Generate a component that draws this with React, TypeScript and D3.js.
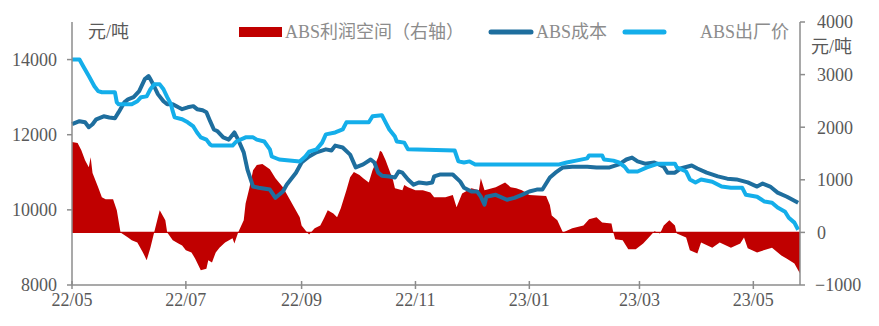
import React from "react";
import * as d3 from "d3";

const priceDates = ["2022-05-01","2022-05-05","2022-05-07","2022-05-10","2022-05-13","2022-05-15","2022-05-17","2022-05-24","2022-05-25","2022-05-26","2022-06-02","2022-06-05","2022-06-07","2022-06-10","2022-06-12","2022-06-14","2022-06-17","2022-06-19","2022-06-21","2022-06-23","2022-06-24","2022-06-25","2022-06-29","2022-07-02","2022-07-05","2022-07-07","2022-07-09","2022-07-12","2022-07-14","2022-07-15","2022-07-26","2022-07-28","2022-08-02","2022-08-06","2022-08-08","2022-08-12","2022-08-15","2022-08-16","2022-08-20","2022-08-31","2022-09-03","2022-09-05","2022-09-09","2022-09-12","2022-09-14","2022-09-19","2022-09-23","2022-09-25","2022-10-07","2022-10-09","2022-10-14","2022-10-16","2022-10-18","2022-10-21","2022-10-22","2022-10-26","2022-10-28","2022-11-22","2022-11-24","2022-11-27","2022-11-30","2022-12-03","2023-01-17","2023-01-21","2023-01-26","2023-02-01","2023-02-02","2023-02-09","2023-02-10","2023-02-15","2023-02-18","2023-02-21","2023-02-23","2023-02-28","2023-03-05","2023-03-11","2023-03-20","2023-03-21","2023-03-26","2023-03-28","2023-03-31","2023-04-03","2023-04-09","2023-04-14","2023-04-19","2023-04-25","2023-04-27","2023-05-03","2023-05-07","2023-05-11","2023-05-14","2023-05-18","2023-05-20","2023-05-23","2023-05-25"];
const priceValues = [14000,14000,13820,13560,13290,13160,13130,13130,12860,12810,12810,12890,13000,13020,13210,13340,13340,13210,13000,12810,12620,12460,12410,12330,12220,12060,11930,11870,11740,11710,11710,11820,11930,11930,11870,11820,11610,11420,11340,11290,11420,11550,11610,11790,12010,12060,12140,12330,12330,12490,12520,12330,12140,11950,11820,11790,11610,11580,11290,11260,11290,11210,11210,11260,11310,11370,11450,11450,11340,11310,11260,11150,11020,11020,11130,11230,11230,11130,11020,10810,10730,10810,10750,10620,10590,10590,10400,10350,10220,10190,10060,9950,9790,9660,9470];

const costDates = ["2022-05-01","2022-05-05","2022-05-08","2022-05-10","2022-05-12","2022-05-14","2022-05-18","2022-05-21","2022-05-24","2022-05-26","2022-05-29","2022-05-31","2022-06-03","2022-06-06","2022-06-09","2022-06-11","2022-06-12","2022-06-14","2022-06-16","2022-06-19","2022-06-21","2022-06-24","2022-06-27","2022-06-29","2022-07-02","2022-07-05","2022-07-07","2022-07-10","2022-07-12","2022-07-14","2022-07-16","2022-07-18","2022-07-21","2022-07-24","2022-07-27","2022-07-29","2022-08-01","2022-08-03","2022-08-06","2022-08-09","2022-08-15","2022-08-18","2022-08-22","2022-08-24","2022-08-29","2022-09-01","2022-09-05","2022-09-09","2022-09-14","2022-09-17","2022-09-19","2022-09-23","2022-09-27","2022-09-30","2022-10-04","2022-10-08","2022-10-10","2022-10-12","2022-10-14","2022-10-18","2022-10-21","2022-10-23","2022-10-25","2022-10-28","2022-10-31","2022-11-03","2022-11-07","2022-11-10","2022-11-11","2022-11-14","2022-11-21","2022-11-25","2022-11-27","2022-12-01","2022-12-04","2022-12-06","2022-12-08","2022-12-09","2022-12-14","2022-12-20","2022-12-24","2022-12-28","2023-01-01","2023-01-05","2023-01-08","2023-01-12","2023-01-15","2023-01-19","2023-01-24","2023-02-01","2023-02-06","2023-02-13","2023-02-18","2023-02-22","2023-02-25","2023-02-28","2023-03-04","2023-03-09","2023-03-14","2023-03-16","2023-03-20","2023-03-23","2023-03-29","2023-04-01","2023-04-06","2023-04-12","2023-04-17","2023-04-22","2023-04-28","2023-05-03","2023-05-06","2023-05-10","2023-05-14","2023-05-19","2023-05-25"];
const costValues = [12280,12360,12330,12200,12280,12410,12490,12460,12440,12600,12860,12940,13000,13160,13480,13560,13480,13290,13080,12890,12810,12810,12730,12680,12730,12760,12680,12650,12600,12360,12140,12090,11930,11870,12060,11870,11530,11070,10620,10590,10540,10320,10490,10670,10990,11260,11420,11530,11610,11580,11710,11660,11470,11130,11210,11340,11260,10990,10910,10890,10860,11020,10990,10810,10670,10730,10700,10730,10890,10940,10940,10750,10590,10490,10490,10350,10140,10350,10400,10270,10320,10400,10490,10540,10540,10860,10990,11130,11150,11150,11130,11130,11210,11340,11390,11290,11230,11260,11150,10990,10990,11100,11180,11100,10990,10890,10830,10810,10730,10620,10700,10620,10460,10350,10190];

const profitDates = ["2022-05-01","2022-05-04","2022-05-06","2022-05-08","2022-05-10","2022-05-11","2022-05-12","2022-05-15","2022-05-17","2022-05-19","2022-05-23","2022-05-25","2022-05-27","2022-05-31","2022-06-02","2022-06-05","2022-06-08","2022-06-10","2022-06-12","2022-06-14","2022-06-17","2022-06-20","2022-06-21","2022-06-24","2022-06-27","2022-06-29","2022-07-01","2022-07-04","2022-07-06","2022-07-09","2022-07-12","2022-07-13","2022-07-15","2022-07-17","2022-07-19","2022-07-22","2022-07-26","2022-07-27","2022-07-29","2022-08-01","2022-08-02","2022-08-04","2022-08-06","2022-08-08","2022-08-11","2022-08-15","2022-08-18","2022-08-22","2022-08-25","2022-08-28","2022-08-31","2022-09-01","2022-09-03","2022-09-05","2022-09-08","2022-09-11","2022-09-13","2022-09-15","2022-09-18","2022-09-20","2022-09-22","2022-09-25","2022-09-27","2022-09-29","2022-10-02","2022-10-04","2022-10-07","2022-10-09","2022-10-12","2022-10-13","2022-10-14","2022-10-16","2022-10-18","2022-10-20","2022-10-21","2022-10-25","2022-10-26","2022-10-28","2022-11-01","2022-11-05","2022-11-09","2022-11-11","2022-11-17","2022-11-21","2022-11-23","2022-11-26","2022-12-01","2022-12-05","2022-12-06","2022-12-08","2022-12-14","2022-12-19","2022-12-22","2022-12-25","2022-12-28","2023-01-01","2023-01-10","2023-01-12","2023-01-13","2023-01-16","2023-01-19","2023-01-24","2023-01-30","2023-02-02","2023-02-06","2023-02-09","2023-02-14","2023-02-15","2023-02-16","2023-02-20","2023-02-23","2023-02-27","2023-03-03","2023-03-06","2023-03-09","2023-03-12","2023-03-14","2023-03-17","2023-03-20","2023-03-21","2023-03-26","2023-03-28","2023-04-01","2023-04-03","2023-04-09","2023-04-13","2023-04-19","2023-04-24","2023-04-26","2023-04-28","2023-05-03","2023-05-11","2023-05-16","2023-05-19","2023-05-23","2023-05-25","2023-05-26"];
const profitValues = [1720,1700,1560,1370,1240,1430,1130,860,670,630,630,420,0,-95,-150,-190,-380,-530,-290,0,420,230,0,-150,-210,-250,-340,-380,-500,-720,-690,-530,-570,-380,-290,-190,-110,-210,0,230,550,840,1180,1280,1300,1200,1030,860,670,480,290,130,40,-40,80,130,270,420,360,290,460,800,1050,1150,1090,1030,950,1180,1430,1550,1530,1370,1180,990,840,800,900,860,800,800,760,670,670,710,480,740,840,800,1030,800,860,950,860,840,800,710,690,520,320,230,0,80,130,250,290,190,170,0,-130,-150,-320,-320,-210,-95,20,-20,130,230,130,-20,-95,-340,-400,-190,-290,-190,-290,-210,-95,-300,-380,-290,-440,-500,-590,-720,-780];

const xTickDates = ["2022-05-01","2022-07-01","2022-09-01","2022-11-01","2023-01-01","2023-03-01","2023-05-01"];
const xTickLabels = ["22/05","22/07","22/09","22/11","23/01","23/03","23/05"];
const leftTicks = [8000, 10000, 12000, 14000];
const rightTicks = [-1000, 0, 1000, 2000, 3000, 4000];
const legendLabels = ["ABS利润空间（右轴）", "ABS成本", "ABS出厂价"];
const unitLabel = "元/吨";

const parse = d3.timeParse("%Y-%m-%d");

const RED = "#C00000";
const DARK = "#1E6E9E";
const LIGHT = "#14AEEA";
const AXIS = "#8C8C8C";
const TXT = "#595959";
const FONT = "'Liberation Serif', 'Noto Sans CJK SC', serif";
const CJK = "'Liberation Serif', 'Noto Sans CJK SC', sans-serif";

export default function App() {
  const W = 879, H = 326;
  const x0 = 72, x1 = 800, yTop = 22, yBot = 285;
  const x = d3.scaleTime().domain([parse("2022-05-01")!, parse("2023-05-26")!]).range([x0, x1]);
  const yL = d3.scaleLinear().domain([8000, 15000]).range([yBot, yTop]);
  const yR = d3.scaleLinear().domain([-1000, 4000]).range([yBot, yTop]);

  const price = priceDates.map((d, i) => ({ d: parse(d)!, v: priceValues[i] }));
  const cost = costDates.map((d, i) => ({ d: parse(d)!, v: costValues[i] }));
  const profit = profitDates.map((d, i) => ({ d: parse(d)!, v: profitValues[i] }));

  const lineL = d3.line<{ d: Date; v: number }>().x(p => x(p.d)).y(p => yL(p.v));
  const area = d3.area<{ d: Date; v: number }>().x(p => x(p.d)).y0(yR(0)).y1(p => yR(p.v));

  return (
    <svg width={W} height={H} style={{ position: "absolute", left: 0, top: 0 }} fontFamily={FONT}>
      <rect width={W} height={H} fill="#fff" />
      <path d={area(profit)!} fill={RED} />
      <line x1={x0} x2={x1} y1={yR(0)} y2={yR(0)} stroke={RED} strokeWidth={1.2} />
      <path d={lineL(cost)!} fill="none" stroke={DARK} strokeWidth={4} strokeLinejoin="round" />
      <path d={lineL(price)!} fill="none" stroke={LIGHT} strokeWidth={4} strokeLinejoin="round" />

      {/* left axis */}
      <line x1={x0} x2={x0} y1={yTop} y2={yBot} stroke={AXIS} strokeWidth={1.5} />
      {leftTicks.map(t => (
        <g key={t}>
          <line x1={x0 - 5} x2={x0} y1={yL(t)} y2={yL(t)} stroke={AXIS} strokeWidth={1.5} />
          <text x={57} y={yL(t)} dy="0.35em" textAnchor="end" fontSize={18} fill={TXT}>{t}</text>
        </g>
      ))}
      <text x={88} y={38} fontSize={18} fill={TXT} fontFamily={CJK}>{unitLabel}</text>

      {/* right axis */}
      <line x1={x1} x2={x1} y1={yTop} y2={yBot} stroke={AXIS} strokeWidth={1.5} />
      {rightTicks.map(t => (
        <g key={t}>
          <line x1={x1} x2={x1 + 5} y1={yR(t)} y2={yR(t)} stroke={AXIS} strokeWidth={1.5} />
          <text x={t < 0 ? 815 : 817} y={yR(t)} dy="0.35em" textAnchor="start" fontSize={18} fill={TXT}>{t < 0 ? "−" + Math.abs(t) : t}</text>
        </g>
      ))}
      <text x={811} y={53} fontSize={18} fill={TXT} fontFamily={CJK}>{unitLabel}</text>

      {/* bottom axis */}
      <line x1={x0} x2={x1} y1={yBot} y2={yBot} stroke={AXIS} strokeWidth={1.5} />
      {xTickDates.map((d, i) => (
        <g key={d}>
          <line x1={x(parse(d)!)} x2={x(parse(d)!)} y1={yBot - 4} y2={yBot + 4} stroke={AXIS} strokeWidth={1.5} />
          <text x={x(parse(d)!)} y={306} textAnchor="middle" fontSize={18} fill={TXT}>{xTickLabels[i]}</text>
        </g>
      ))}

      {/* legend */}
      <rect x={239} y={27} width={43} height={10} fill={RED} />
      <text x={285} y={38} fontSize={18} fill={AXIS} fontFamily={CJK}>{legendLabels[0]}</text>
      <line x1={491} x2={531} y1={32} y2={32} stroke={DARK} strokeWidth={5} strokeLinecap="round" />
      <text x={536} y={38} fontSize={18} fill={AXIS} fontFamily={CJK}>{legendLabels[1]}</text>
      <line x1={625} x2={664} y1={32} y2={32} stroke={LIGHT} strokeWidth={5} strokeLinecap="round" />
      <text x={700} y={38} fontSize={18} fill={AXIS} fontFamily={CJK}>{legendLabels[2]}</text>
    </svg>
  );
}
